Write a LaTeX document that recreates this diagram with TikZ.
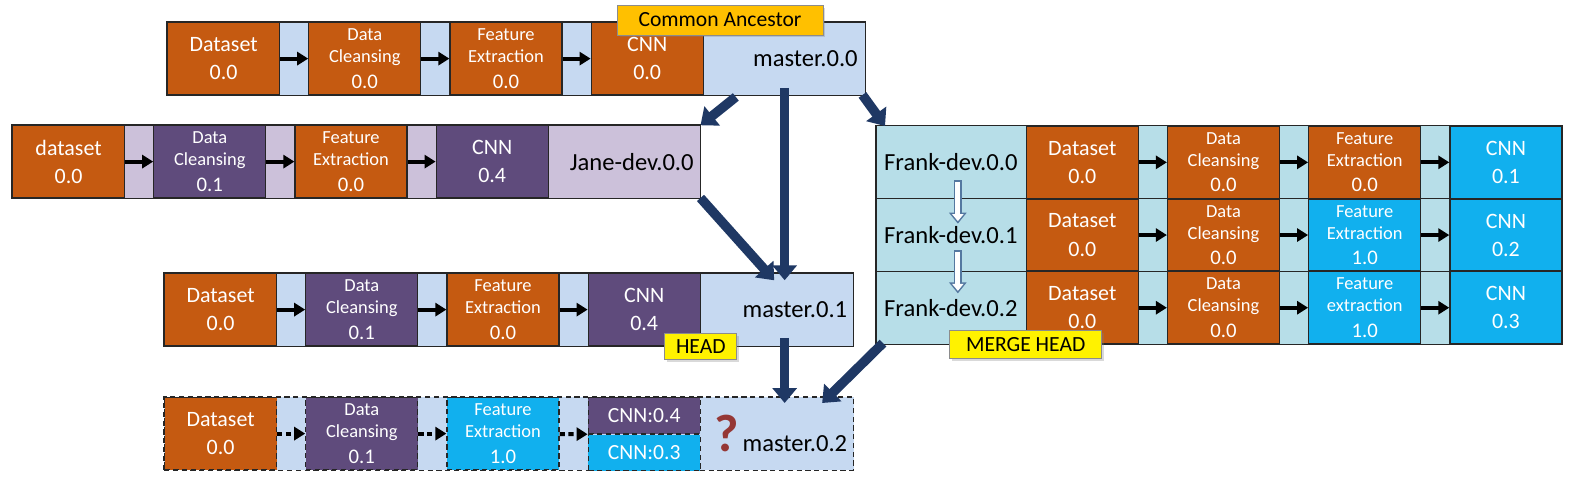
\documentclass[tikz,border=0pt]{standalone}
\usepackage{fontspec}
\setmainfont{Carlito}
\usetikzlibrary{positioning,fit,backgrounds,shadows,arrows.meta}
\definecolor{rust}{RGB}{197,90,17}
\definecolor{plum}{RGB}{95,75,124}
\definecolor{sky}{RGB}{17,176,238}
\definecolor{paleblue}{RGB}{198,217,241}
\definecolor{lilac}{RGB}{204,193,218}
\definecolor{mist}{RGB}{183,222,232}
\definecolor{amber}{RGB}{255,192,0}
\definecolor{navy}{RGB}{31,56,100}
\definecolor{crimson}{RGB}{149,55,53}
\definecolor{steel}{RGB}{84,120,160}
\newcommand{\sm}{\fontsize{10.5}{12}\selectfont}
\newcommand{\twoline}[3]{{\sm #1}\\[-3.5pt]{\sm #2}\\[-1.5pt]{\fontsize{11.8}{14}\selectfont #3}}

\begin{document}
\begin{tikzpicture}[x=0.02cm,y=-0.02cm,node distance=0.56cm,inner sep=0pt,font=\fontsize{12.5}{16}\selectfont]
\tikzstyle{stage}=[rectangle, draw=black!85, line width=0.7pt, minimum width=2.24cm, minimum height=1.44cm, text=white, align=center]
\tikzstyle{half}=[stage, minimum height=0.72cm, font=\fontsize{12.3}{14}\selectfont]
\tikzstyle{tag}=[rectangle, minimum height=1.44cm, font=\fontsize{14}{16}\selectfont]
\tikzstyle{branch}=[tag, align=right]
\tikzstyle{strip}=[rectangle, draw=black!85, line width=0.7pt]
\tikzstyle{try}=[dash pattern=on 3pt off 2pt]
\tikzstyle{feed}=[-{Triangle[length=0.22cm,width=0.26cm]}, line width=0.08cm]
\tikzstyle{merge}=[-{Triangle[length=0.3cm,width=0.48cm]}, line width=0.19cm, navy]
\tikzstyle{hollow}=[-{Triangle[length=0.22cm,width=0.34cm]}, line width=0.16cm, steel]
\tikzstyle{hollowcore}=[-{Triangle[length=0.14cm,width=0.22cm]}, line width=0.1cm, white, shorten >=0.05cm, shorten <=0.03cm]
\tikzstyle{callout}=[rectangle, draw=black!45, line width=0.5pt, drop shadow={shadow xshift=0.05cm, shadow yshift=-0.05cm, opacity=0.3}, font=\fontsize{12.3}{14}\selectfont]

\useasboundingbox (0,0) rectangle (1577,477);

% master.0.0
\node[stage,fill=rust,anchor=north west] (ds0) at (167,22) {Dataset\\0.0};
\node[stage,fill=rust] (dc0) [right=of ds0] {\twoline{Data}{Cleansing}{0.0}};
\node[stage,fill=rust] (fe0) [right=of dc0] {\twoline{Feature}{Extraction}{0.0}};
\node[stage,fill=rust] (cnn0) [right=of fe0] {CNN\\0.0};
\node[branch,minimum width=3.22cm,text width=2.92cm] (m0) [right=0pt of cnn0] {master.0.0};

% Jane-dev.0.0
\node[stage,fill=rust,anchor=north west] (jds) at (12,125) {dataset\\0.0};
\node[stage,fill=plum] (jdc) [right=of jds] {\twoline{Data}{Cleansing}{0.1}};
\node[stage,fill=rust] (jfe) [right=of jdc] {\twoline{Feature}{Extraction}{0.0}};
\node[stage,fill=plum] (jcnn) [right=of jfe] {CNN\\0.4};
\node[branch,minimum width=3.02cm,text width=2.76cm] (jane) [right=0pt of jcnn] {Jane-dev.0.0};

% master.0.1
\node[stage,fill=rust,anchor=north west] (ds1) at (164,273) {Dataset\\0.0};
\node[stage,fill=plum] (dc1) [right=of ds1] {\twoline{Data}{Cleansing}{0.1}};
\node[stage,fill=rust] (fe1) [right=of dc1] {\twoline{Feature}{Extraction}{0.0}};
\node[stage,fill=plum] (cnn1) [right=of fe1] {CNN\\0.4};
\node[branch,minimum width=3.04cm,text width=2.8cm] (m1) [right=0pt of cnn1] {master.0.1};

% master.0.2 (merge result)
\node[stage,try,fill=rust,anchor=north west] (ds2) at (164,397) {Dataset\\0.0};
\node[stage,try,fill=plum] (dc2) [right=of ds2] {\twoline{Data}{Cleansing}{0.1}};
\node[stage,try,fill=sky] (fe2) [right=of dc2] {\twoline{Feature}{Extraction}{1.0}};
\node[half,try,fill=plum] (cnnA) [right=of fe2.north east,anchor=north west] {CNN:0.4};
\node[half,try,fill=sky] (cnnB) [below=0pt of cnnA] {CNN:0.3};
\node[branch,minimum width=3.04cm,text width=2.8cm] (m2) [right=0pt of cnnA.north east,anchor=north west] {{\fontsize{30}{30}\selectfont\bfseries\color{crimson}?}\,master.0.2};

% Frank-dev
\node[tag,minimum width=2.98cm,anchor=north west] (f0) at (876,126) {Frank-dev.0.0};
\node[stage,fill=rust] (fds0) [right=0pt of f0] {Dataset\\0.0};
\node[stage,fill=rust] (fdc0) [right=of fds0] {\twoline{Data}{Cleansing}{0.0}};
\node[stage,fill=rust] (ffe0) [right=of fdc0] {\twoline{Feature}{Extraction}{0.0}};
\node[stage,fill=sky] (fcnn0) [right=of ffe0] {CNN\\0.1};

\node[tag,minimum width=2.98cm] (f1) [below=0pt of f0] {Frank-dev.0.1};
\node[stage,fill=rust] (fds1) [right=0pt of f1] {Dataset\\0.0};
\node[stage,fill=rust] (fdc1) [right=of fds1] {\twoline{Data}{Cleansing}{0.0}};
\node[stage,fill=sky] (ffe1) [right=of fdc1] {\twoline{Feature}{Extraction}{1.0}};
\node[stage,fill=sky] (fcnn1) [right=of ffe1] {CNN\\0.2};

\node[tag,minimum width=2.98cm] (f2) [below=0pt of f1] {Frank-dev.0.2};
\node[stage,fill=rust] (fds2) [right=0pt of f2] {Dataset\\0.0};
\node[stage,fill=rust] (fdc2) [right=of fds2] {\twoline{Data}{Cleansing}{0.0}};
\node[stage,fill=sky] (ffe2) [right=of fdc2] {\twoline{Feature}{extraction}{1.0}};
\node[stage,fill=sky] (fcnn2) [right=of ffe2] {CNN\\0.3};

\begin{scope}[on background layer]
\node[strip,fill=paleblue,fit=(ds0)(m0)] (row0) {};
\node[strip,fill=lilac,fit=(jds)(jane)] (rowj) {};
\node[strip,fill=paleblue,fit=(ds1)(m1)] (row1) {};
\node[strip,try,fill=paleblue,fit=(ds2)(m2)] (row2) {};
\node[strip,fill=mist,fit=(f0)(fcnn0)] (rowf0) {};
\node[strip,fill=mist,fit=(f1)(fcnn1)] (rowf1) {};
\node[strip,fill=mist,fit=(f2)(fcnn2)] (rowf2) {};
\end{scope}

\draw[feed] (ds0) -- (dc0);
\draw[feed] (dc0) -- (fe0);
\draw[feed] (fe0) -- (cnn0);
\draw[feed] (jds) -- (jdc);
\draw[feed] (jdc) -- (jfe);
\draw[feed] (jfe) -- (jcnn);
\draw[feed] (ds1) -- (dc1);
\draw[feed] (dc1) -- (fe1);
\draw[feed] (fe1) -- (cnn1);
\draw[feed,try] (ds2) -- (dc2);
\draw[feed,try] (dc2) -- (fe2);
\draw[feed,try] (fe2) -- (cnnA.south west);
\draw[feed] (fds0) -- (fdc0);
\draw[feed] (fdc0) -- (ffe0);
\draw[feed] (ffe0) -- (fcnn0);
\draw[feed] (fds1) -- (fdc1);
\draw[feed] (fdc1) -- (ffe1);
\draw[feed] (ffe1) -- (fcnn1);
\draw[feed] (fds2) -- (fdc2);
\draw[feed] (fdc2) -- (ffe2);
\draw[feed] (ffe2) -- (fcnn2);

% Frank-dev history
\draw[hollow] ([xshift=0.14cm,yshift=-0.36cm]f0.center) -- ([xshift=0.14cm,yshift=-0.5cm]f1.north);
\draw[hollowcore] ([xshift=0.14cm,yshift=-0.36cm]f0.center) -- ([xshift=0.14cm,yshift=-0.5cm]f1.north);
\draw[hollow] ([xshift=0.14cm,yshift=-0.3cm]f1.center) -- ([xshift=0.14cm,yshift=-0.44cm]f2.north);
\draw[hollowcore] ([xshift=0.14cm,yshift=-0.3cm]f1.center) -- ([xshift=0.14cm,yshift=-0.44cm]f2.north);

% branches and merges
\coordinate (v0) at (m0.south |- m1.north);
\coordinate (v1) at (m0.south |- m1.south);
\coordinate (v2) at (m0.south |- m2.north);
\draw[merge] ([xshift=0.64cm,yshift=-0.04cm]m0.south west) -- (jane.north east);
\draw[merge] ([yshift=0.14cm]m0.south) -- ([yshift=-0.14cm]v0);
\draw[merge] ([xshift=-0.06cm]m0.south east) -- ([xshift=0.18cm]f0.north west);
\draw[merge] (jane.south east) -- ([xshift=-0.06cm,yshift=-0.14cm]m1.north);
\draw[merge] ([yshift=0.16cm]v1) -- ([yshift=-0.12cm]v2);
\draw[merge] ([xshift=0.14cm,yshift=0.02cm]f2.south west) -- ([xshift=0.9cm,yshift=-0.12cm]m2.north);

\node[callout,fill=amber,minimum width=4.12cm,minimum height=0.6cm] (anc) at (720,20) {Common Ancestor};
\node[callout,fill=yellow,minimum width=1.44cm,minimum height=0.52cm] (head) at (cnn1.south east) {HEAD};
\node[callout,fill=yellow,minimum width=3.04cm,minimum height=0.56cm] (mhead) at (f2.south east) {MERGE HEAD};
\end{tikzpicture}
\end{document}
